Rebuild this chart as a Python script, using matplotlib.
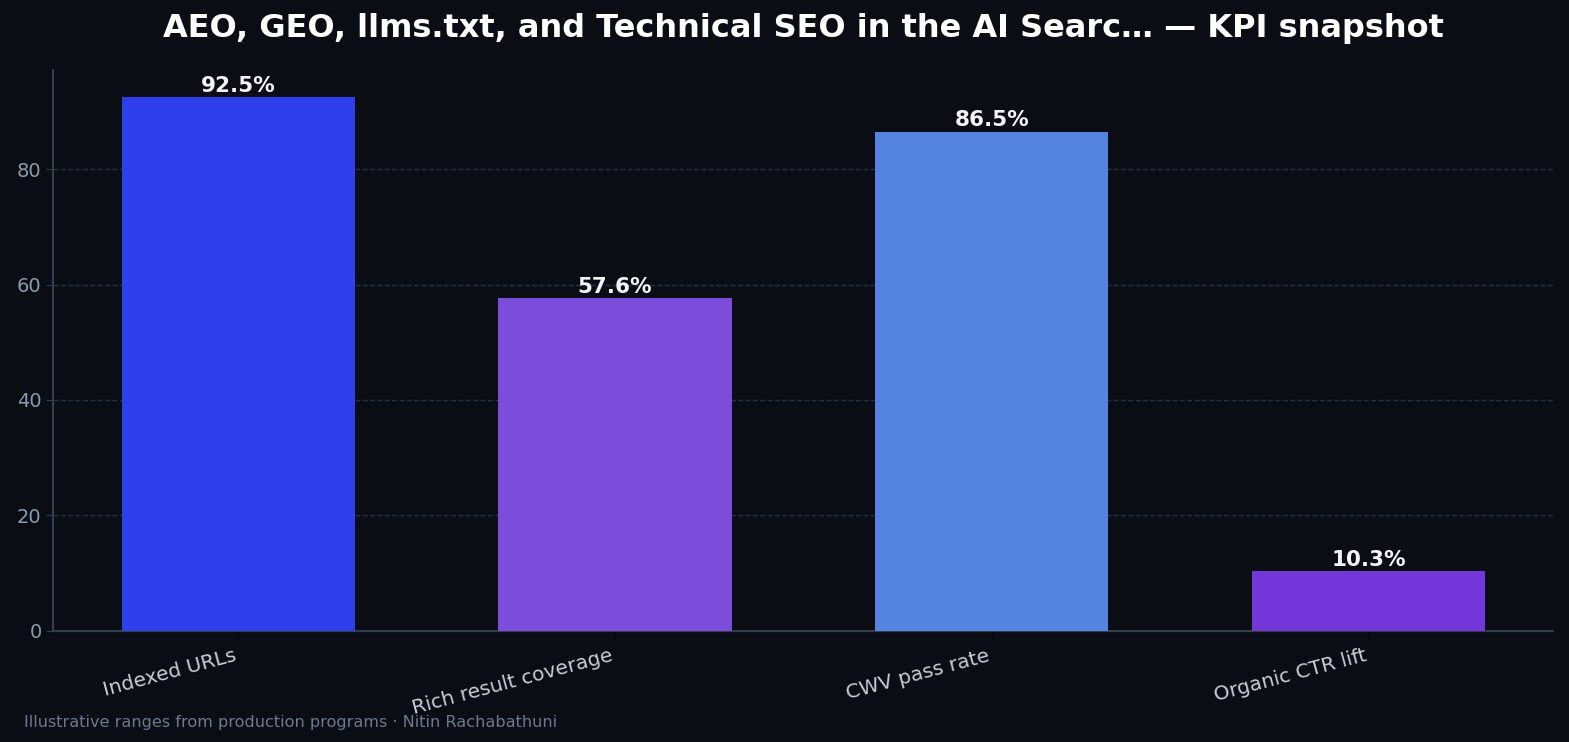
import numpy as np
import matplotlib.pyplot as plt

categories = ["Indexed URLs", "Rich result coverage", "CWV pass rate", "Organic CTR lift"]
values = [92.5, 57.6, 86.5, 10.3]
colors = ["#2e3feb", "#7c4ddb", "#5484e0", "#7236d9"]

bg = "#0a0d14"
fig, ax = plt.subplots(figsize=(15.69, 7.42), dpi=100)
fig.patch.set_facecolor(bg)
ax.set_facecolor(bg)

x = np.arange(len(categories))
bars = ax.bar(x, values, width=0.62, color=colors, zorder=3)
ax.bar_label(bars, labels=[f"{v:.1f}%" for v in values], padding=1,
             color="#f2f4f8", fontsize=15.5, fontweight="bold")

ax.set_ylim(0, max(values) * 1.05)
ax.set_xticks(x)
ax.set_xticklabels(categories, rotation=15, ha="right", fontsize=14.5)
ax.tick_params(axis="y", colors="#333d4d", labelsize=14, length=5)
ax.tick_params(axis="y", labelcolor="#8a9bb0")
ax.tick_params(axis="x", colors="#05070a", length=5, pad=6)
ax.tick_params(axis="x", labelcolor="#c8cdd6")
ax.yaxis.grid(True, linestyle="--", color="#2b3a5a", alpha=0.8, linewidth=1, zorder=0)

for s in ["top", "right"]:
    ax.spines[s].set_visible(False)
for s in ["left", "bottom"]:
    ax.spines[s].set_color("#333d4d")
    ax.spines[s].set_linewidth(1.5)

ax.set_title("AEO, GEO, llms.txt, and Technical SEO in the AI Searc\u2026 \u2014 KPI snapshot",
             color="white", fontsize=23, fontweight="bold", pad=24)
fig.text(0.015, 0.02, "Illustrative ranges from production programs \u00b7 Nitin Rachabathuni",
         color="#6b7a90", fontsize=11.6)

fig.subplots_adjust(left=0.034, right=0.99, top=0.905, bottom=0.15)
fig.savefig("out.png", facecolor=bg)
